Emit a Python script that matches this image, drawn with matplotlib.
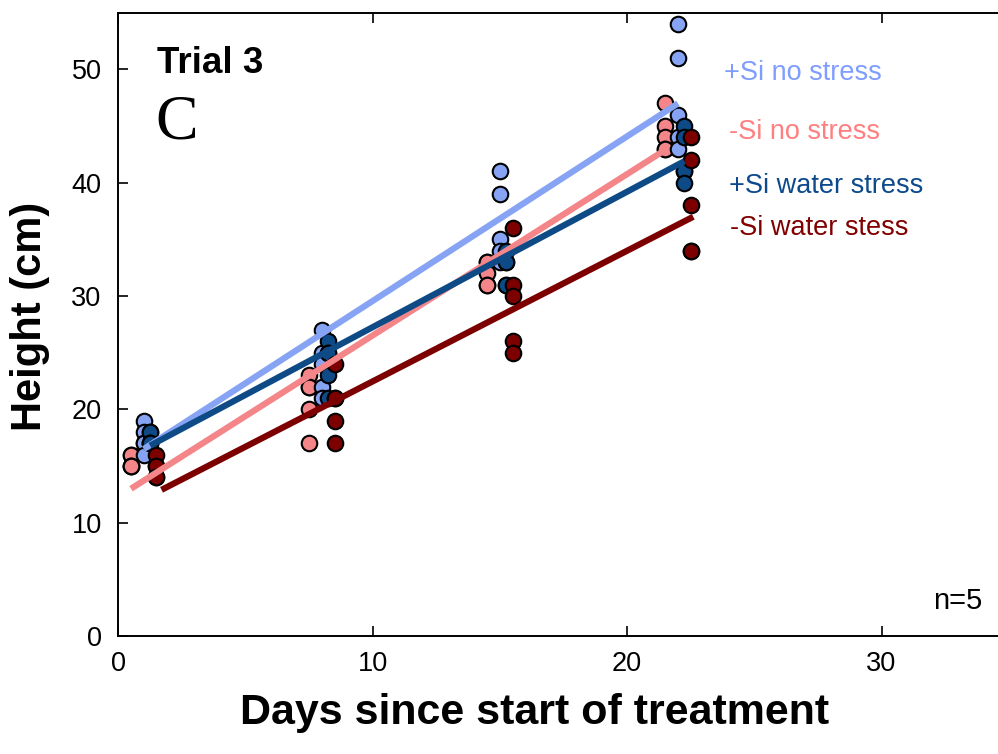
import numpy as np
import matplotlib
matplotlib.use("Agg")
import matplotlib.pyplot as plt

plt.rcParams['font.family'] = ['Liberation Sans', 'DejaVu Sans']

# treatments, drawing colours and label colours
treatments = ["+Si no stress", "-Si no stress", "+Si water stress", "-Si water stess"]
point_colors = ["#86a4f3", "#f4868a", "#0e4a86", "#7d0000"]
text_colors = ["#7f9dff", "#ff7f80", "#0c4a8c", "#800000"]

# sampling days, offset per treatment so the groups sit side by side
days_si_ns = [1.0, 8.0, 15.0, 22.0]
days_nosi_ns = [0.5, 7.5, 14.5, 21.5]
days_si_ws = [1.25, 8.25, 15.25, 22.25]
days_nosi_ws = [1.5, 8.5, 15.5, 22.5]

# plant heights (cm), n=5 per sampling day
h_si_ns = [[19, 18, 17, 17, 16], [27, 25, 24, 22, 21], [41, 39, 35, 34, 33], [54, 51, 46, 44, 43]]
h_nosi_ns = [[16, 16, 15, 15, 15], [23, 22, 22, 20, 17], [33, 33, 32, 31, 31], [47, 45, 44, 43, 43]]
h_si_ws = [[18, 18, 17, 17, 17], [26, 25, 25, 23, 21], [34, 33, 33, 31, 31], [45, 44, 41, 41, 40]]
h_nosi_ws = [[16, 15, 15, 14, 14], [24, 21, 21, 19, 17], [36, 31, 30, 26, 25], [44, 42, 38, 34, 34]]

# fitted regression lines: start/end day and height
fit_x0 = [1.0, 0.5, 1.25, 1.7]
fit_x1 = [22.0, 21.5, 22.25, 22.6]
fit_y0 = [16.5, 13.0, 16.8, 12.9]
fit_y1 = [47.0, 42.9, 41.9, 37.0]

# label anchor positions
label_x = [23.8, 24.0, 24.0, 24.05]
label_y = [49.7, 44.5, 39.75, 36.0]

days_all = [days_si_ns, days_nosi_ns, days_si_ws, days_nosi_ws]
heights_all = [h_si_ns, h_nosi_ns, h_si_ws, h_nosi_ws]

fig = plt.figure(figsize=(9.98, 7.54), dpi=100)
ax = fig.add_axes([118.3 / 998, 118 / 754, (1008.7 - 118.3) / 998, (636 - 12.8) / 754])

draw_order = [1, 0, 2, 3]
for i in draw_order:
    for d, hs in zip(days_all[i], heights_all[i]):
        ax.scatter(np.full(len(hs), d), hs, s=125, color=point_colors[i],
                   edgecolor="black", linewidth=1.5, zorder=2)

for i in draw_order:
    ax.plot([fit_x0[i], fit_x1[i]], [fit_y0[i], fit_y1[i]], color=point_colors[i],
            lw=4.5, solid_capstyle="butt", zorder=3)

for i in range(4):
    ax.text(label_x[i], label_y[i], treatments[i], color=text_colors[i],
            fontsize=19.5, va="center", ha="left")

ax.text(1.53, 50.5, "Trial 3", fontsize=26.5, fontweight="bold", va="center", ha="left")
ax.text(1.45, 45.2, "C", fontsize=46, family="Liberation Serif", va="center", ha="left")
ax.text(33.98, 3.1, "n=5", fontsize=21, va="center", ha="right")

ax.set_xlim(0, 35)
ax.set_ylim(0, 55)
ax.set_xticks([0, 10, 20, 30])
ax.set_yticks([0, 10, 20, 30, 40, 50])
ax.tick_params(direction="in", length=7, width=1.2, labelsize=19.5, top=True, right=False)
ax.tick_params(axis="x", pad=11)
ax.tick_params(axis="y", pad=12)
for sp in ax.spines.values():
    sp.set_linewidth(1.4)
ax.spines["right"].set_visible(False)

fig.text(535 / 998, 1 - 713 / 754, "Days since start of treatment", fontsize=31,
         fontweight="bold", ha="center", va="center")
fig.text(30 / 998, 1 - 316 / 754, "Height (cm)", fontsize=30, fontweight="bold",
         rotation=90, ha="center", va="center")

fig.savefig("out.png", dpi=100)
